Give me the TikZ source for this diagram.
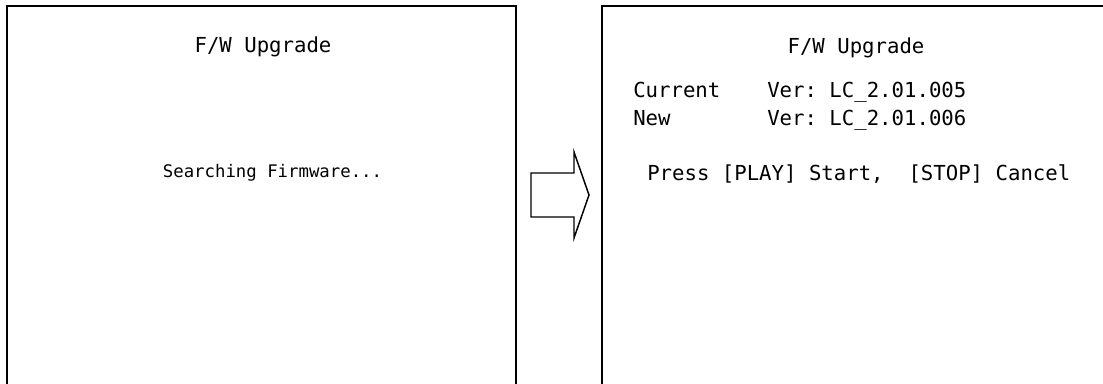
\documentclass[tikz,border=0pt]{standalone}
\usepackage{fontspec}
\newfontfamily\lcdfont{DejaVu Sans Mono}

\begin{document}
\frenchspacing
\begin{tikzpicture}[
  x=0.75pt, y=-0.75pt,
  screen/.style={draw, line width=1.5pt, minimum height=310.5pt, inner sep=0pt},
  scrtext/.style={inner sep=0pt, font=\lcdfont\fontsize{15.5}{18}\selectfont},
  smalltext/.style={inner sep=0pt, font=\lcdfont\fontsize{13}{16}\selectfont}
]
\clip (0,0) rectangle (1103,383);

% the two screens, cut off at the page edge
\node[screen, minimum width=381.75pt] (scrold) at (261.5,213) {};
\node[screen, minimum width=381pt] (scrnew) at (856,213) {};

\node[scrtext, anchor=base] (titleold) at (263,52) {F/W Upgrade};
\node[smalltext, anchor=base] (search) at (272.5,177) {Searching Firmware...};

\node[scrtext, anchor=base] (titlenew) at (856,53) {F/W Upgrade};
\node[scrtext, anchor=base west] (curlbl) at (633,97) {Current};
\node[scrtext, anchor=base west] (curver) at (767,97) {Ver: LC\_2.01.005};
\node[scrtext, anchor=base west] (newlbl) at (633,125) {New};
\node[scrtext, anchor=base west] (newver) at (767,125) {Ver: LC\_2.01.006};
\node[scrtext, anchor=base west] (press) at (647,180) {Press [PLAY] Start,\ \ [STOP] Cancel};

% block arrow between the screens
\draw[line width=1.1pt, line join=miter]
  (531,173) -- (574,173) -- (574,152) -- (589,195) -- (574,238) -- (574,217) -- (531,217) -- cycle;
\end{tikzpicture}
\end{document}
